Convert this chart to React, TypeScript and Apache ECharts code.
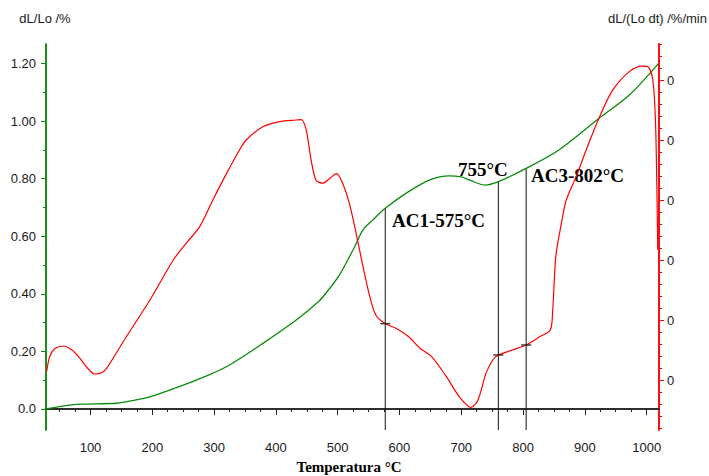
import React, { useEffect, useRef } from "react";
import * as echarts from "echarts";

// Temperature (°C) vs dL/Lo (%) – left axis
const dilatation: [number, number][] = [
  [28, 0.0], [60, 0.012], [83, 0.017], [142, 0.02], [170, 0.03], [200, 0.045],
  [250, 0.083], [288, 0.115], [325, 0.153], [379, 0.228], [433, 0.309], [470, 0.375],
  [482, 0.405], [503, 0.466], [525, 0.553], [541, 0.622], [557, 0.657], [577, 0.697],
  [611, 0.75], [649, 0.796], [681, 0.81], [700, 0.806], [713, 0.796], [738, 0.778],
  [760, 0.79], [805, 0.836], [858, 0.9], [923, 1.01], [972, 1.091], [1019, 1.2],
];

// Temperature (°C) vs dL/(Lo dt) – right axis (relative units; labels all read "0")
const derivative: [number, number][] = [
  [29, 0.139], [34, 0.39], [42, 0.52], [56, 0.567], [70, 0.5], [83, 0.36], [95, 0.2],
  [107, 0.1], [118, 0.12], [126, 0.194], [140, 0.42], [158, 0.72], [196, 1.33],
  [234, 2.0], [255, 2.28], [277, 2.56], [298, 3.0], [320, 3.44], [341, 3.83], [352, 4.0],
  [379, 4.22], [406, 4.305], [433, 4.333], [441, 4.34], [449, 4.17], [457, 3.67],
  [465, 3.33], [476, 3.28], [487, 3.36], [498, 3.44], [508, 3.28], [519, 2.94],
  [530, 2.44], [541, 1.89], [552, 1.39], [562, 1.08], [577, 0.94], [595, 0.86],
  [615, 0.72], [633, 0.53], [652, 0.39], [676, 0.055], [697, -0.28], [716, -0.456],
  [727, -0.333], [740, 0.11], [751, 0.333], [760, 0.417], [783, 0.5], [805, 0.583],
  [827, 0.72], [844, 0.833], [848, 1.167], [853, 2.06], [862, 2.61], [870, 3.0],
  [886, 3.39], [902, 3.83], [924, 4.39], [945, 4.83], [972, 5.14], [993, 5.23],
  [1002, 5.22], [1010, 5.0], [1014, 4.39], [1016, 3.56], [1018, 2.17],
];

// Transformation points
const transTemps = [577, 760, 805];
const transDilatation = [0.697, 0.79, 0.836];
const transDerivative = [0.94, 0.417, 0.583];
const transLabels = ["AC1-575°C", "755°C", "AC3-802°C"];

// Axis ticks
const xMajor = [100, 200, 300, 400, 500, 600, 700, 800, 900, 1000];
const xMinor: number[] = [];
for (let v = 50; v <= 1000; v += 25) if (v % 100 !== 0) xMinor.push(v);
const yLeftMajor = [0, 0.2, 0.4, 0.6, 0.8, 1.0, 1.2];
const yLeftMinor = [0.1, 0.3, 0.5, 0.7, 0.9, 1.1];
const yRightMajor = [0, 1, 2, 3, 4, 5];
const yRightMinor: number[] = [];
for (let i = -4; i <= 28; i++) if (i % 5 !== 0) yRightMinor.push(i / 5);

const X_MIN = 28, X_MAX = 1020;
const YL_MIN = -0.073, YL_MAX = 1.268;
const YR_MIN = -0.8333, YR_MAX = 5.6;

const GREEN = "#0a8a0a";
const RED = "#ff0000";
const SANS = "'Liberation Sans', Arial, sans-serif";
const SERIF = "'Liberation Serif', 'Times New Roman', serif";

export default function App() {
  const ref = useRef<HTMLDivElement>(null);
  useEffect(() => {
    if (!ref.current) return;
    const chart = echarts.init(ref.current, undefined, { renderer: "svg" });
    const labelStyle = { color: "#1a1a1a", fontFamily: SANS, fontSize: 13 };
    const option: any = {
      animation: false,
      backgroundColor: "#ffffff",
      grid: { left: 46, right: 50, top: 44, bottom: 46 },
      xAxis: [
        {
          type: "value", min: X_MIN, max: X_MAX, position: "bottom",
          axisLine: { show: true, lineStyle: { color: "#222", width: 1.5 } },
          axisTick: { show: true, customValues: xMajor, length: 6, lineStyle: { color: "#222" } },
          axisLabel: { customValues: xMajor, margin: 11, ...labelStyle, formatter: (v: number) => String(v) },
          splitLine: { show: false },
        },
        {
          type: "value", min: X_MIN, max: X_MAX, position: "bottom",
          axisLine: { show: true, lineStyle: { color: "#222", width: 1.5 } },
          axisTick: { show: true, customValues: xMinor, length: 3, lineStyle: { color: "#222" } },
          axisLabel: { show: false },
          splitLine: { show: false },
        },
      ],
      yAxis: [
        {
          type: "value", min: YL_MIN, max: YL_MAX, position: "left",
          axisLine: { show: true, lineStyle: { color: GREEN, width: 1.5 } },
          axisTick: { show: true, customValues: yLeftMajor, length: 5, lineStyle: { color: GREEN } },
          axisLabel: {
            customValues: yLeftMajor, margin: 10, ...labelStyle,
            formatter: (v: number) => (v === 0 ? "0.0" : v.toFixed(2)),
          },
          splitLine: { show: false },
        },
        {
          type: "value", min: YL_MIN, max: YL_MAX, position: "left",
          axisLine: { show: true, lineStyle: { color: GREEN, width: 1.5 } },
          axisTick: { show: true, customValues: yLeftMinor, length: 3, lineStyle: { color: GREEN } },
          axisLabel: { show: false },
          splitLine: { show: false },
        },
        {
          type: "value", min: YR_MIN, max: YR_MAX, position: "right",
          axisLine: { show: true, lineStyle: { color: RED, width: 1.5 } },
          axisTick: { show: true, customValues: yRightMajor, length: 5, lineStyle: { color: RED } },
          axisLabel: { customValues: yRightMajor, margin: 8, ...labelStyle, formatter: () => "0" },
          splitLine: { show: false },
        },
        {
          type: "value", min: YR_MIN, max: YR_MAX, position: "right",
          axisLine: { show: true, lineStyle: { color: RED, width: 1.5 } },
          axisTick: { show: true, customValues: yRightMinor, length: 3, lineStyle: { color: RED } },
          axisLabel: { show: false },
          splitLine: { show: false },
        },
      ],
      series: [
        ...transTemps.map((t, i) => ({
          type: "line", xAxisIndex: 0, yAxisIndex: 0, showSymbol: false, silent: true,
          lineStyle: { color: "#111", width: 1 }, z: 1,
          data: [[t, YL_MIN], [t, transDilatation[i]]],
        })),
        {
          type: "line", xAxisIndex: 0, yAxisIndex: 0, data: dilatation,
          showSymbol: false, smooth: 0.3, lineStyle: { color: GREEN, width: 1.3 }, z: 3,
        },
        {
          type: "line", xAxisIndex: 0, yAxisIndex: 2, data: derivative,
          showSymbol: false, smooth: 0.3, lineStyle: { color: RED, width: 1.2 }, z: 4,
        },
        {
          type: "scatter", xAxisIndex: 0, yAxisIndex: 2,
          data: transTemps.map((t, i) => [t, transDerivative[i]]),
          symbol: "rect", symbolSize: [10, 1.5], itemStyle: { color: "#111" }, z: 5,
        },
      ],
      graphic: [
        { type: "text", x: 45, y: 18, style: { text: "dL/Lo /%", font: `13px ${SANS}`, fill: "#1a1a1a", align: "center", verticalAlign: "middle" } },
        { type: "text", x: 707, y: 18, style: { text: "dL/(Lo dt) /%/min", font: `13px ${SANS}`, fill: "#1a1a1a", align: "right", verticalAlign: "middle" } },
        { type: "text", x: 349, y: 467, style: { text: "Temperatura °C", font: `bold 15px ${SERIF}`, fill: "#000", align: "center", verticalAlign: "middle" } },
        { type: "text", x: 392, y: 220, style: { text: transLabels[0], font: `bold 19px ${SERIF}`, fill: "#000", verticalAlign: "middle" } },
        { type: "text", x: 458, y: 169, style: { text: transLabels[1], font: `bold 19px ${SERIF}`, fill: "#000", verticalAlign: "middle" } },
        { type: "text", x: 531, y: 175, style: { text: transLabels[2], font: `bold 19px ${SERIF}`, fill: "#000", verticalAlign: "middle" } },
      ],
    };
    chart.setOption(option);
    return () => chart.dispose();
  }, []);
  return (
    <div
      ref={ref}
      style={{ position: "absolute", left: 0, top: 0, width: 709, height: 476 }}
    />
  );
}
